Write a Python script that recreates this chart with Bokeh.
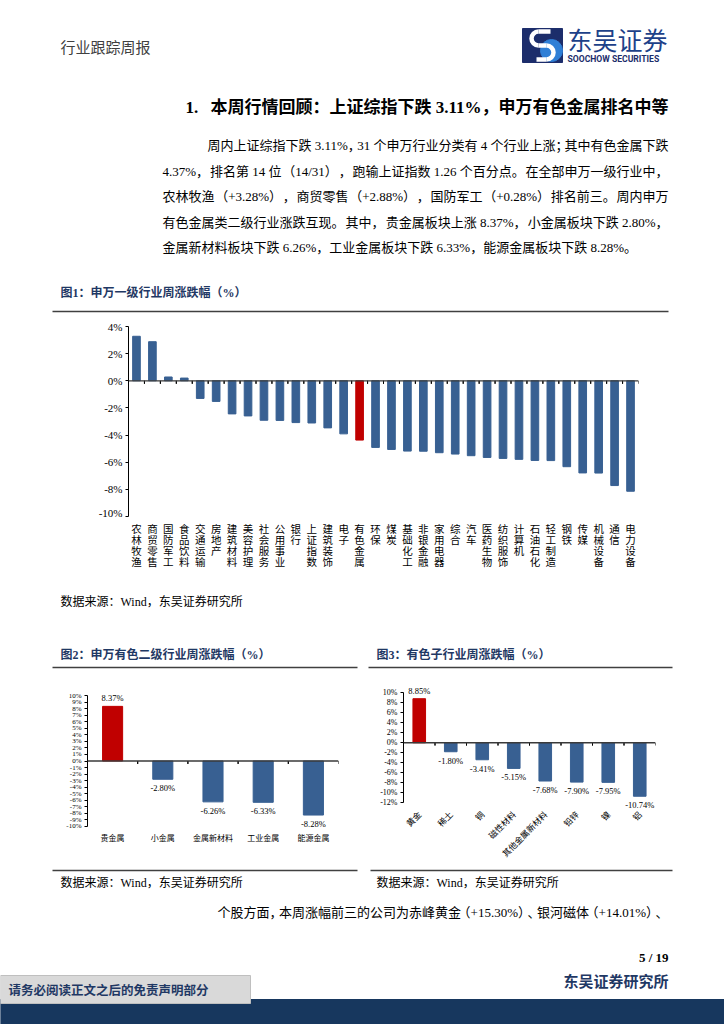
import math
from bokeh.plotting import figure
from bokeh.layouts import column, row
from bokeh.models import (Range1d, FactorRange, Span, ColumnDataSource, LabelSet,
                          FixedTicker, PrintfTickFormatter)
from bokeh.transform import dodge
from bokeh.core.properties import value
from bokeh.embed import file_html
from bokeh.resources import INLINE

# ---------------- data ----------------
industries = ["农林牧渔", "商贸零售", "国防军工", "食品饮料", "交通运输", "房地产", "建筑材料",
              "美容护理", "社会服务", "公用事业", "银行", "上证指数", "建筑装饰", "电子", "有色金属",
              "环保", "煤炭", "基础化工", "非银金融", "家用电器", "综合", "汽车", "医药生物",
              "纺织服饰", "计算机", "石油石化", "轻工制造", "钢铁", "传媒", "机械设备", "通信", "电力设备"]
industry_change = [3.28, 2.88, 0.28, 0.20, -1.30, -1.52, -2.44, -2.59, -2.91, -2.92, -3.08, -3.11,
                   -3.47, -3.91, -4.37, -4.91, -5.06, -5.18, -5.19, -5.30, -5.40, -5.52, -5.65,
                   -5.72, -5.79, -5.87, -5.88, -6.33, -6.79, -6.80, -7.72, -8.14]
industry_highlight = "有色金属"
industry_ticks = [-10, -8, -6, -4, -2, 0, 2, 4]

level2_names = ["贵金属", "小金属", "金属新材料", "工业金属", "能源金属"]
level2_change = [8.37, -2.80, -6.26, -6.33, -8.28]
level2_highlight = "贵金属"
level2_ticks = list(range(-10, 11))

sub_names = ["黄金", "稀土", "铜", "磁性材料", "其他金属新材料", "铅锌", "镍", "铝"]
sub_change = [8.85, -1.80, -3.41, -5.15, -7.68, -7.90, -7.95, -10.74]
sub_highlight = "黄金"
sub_ticks = [-12, -10, -8, -6, -4, -2, 0, 2, 4, 6, 8, 10]

header_left = "行业跟踪周报"
brand_cn = "东吴证券"
brand_en = "SOOCHOW SECURITIES"
section_no = "1."
section_title = "本周行情回顾：上证综指下跌 3.11%，申万有色金属排名中等"
paragraph_lines = [
    "周内上证综指下跌 3.11%，31 个申万行业分类有 4 个行业上涨；其中有色金属下跌",
    "4.37%，排名第 14 位（14/31），跑输上证指数 1.26 个百分点。在全部申万一级行业中，",
    "农林牧渔（+3.28%），商贸零售（+2.88%），国防军工（+0.28%）排名前三。周内申万",
    "有色金属类二级行业涨跌互现。其中，贵金属板块上涨 8.37%，小金属板块下跌 2.80%，",
    "金属新材料板块下跌 6.26%，工业金属板块下跌 6.33%，能源金属板块下跌 8.28%。",
]
fig1_title = "图1：申万一级行业周涨跌幅（%）"
fig2_title = "图2：申万有色二级行业周涨跌幅（%）"
fig3_title = "图3：有色子行业周涨跌幅（%）"
source_note = "数据来源：Wind，东吴证券研究所"
stock_line = "个股方面，本周涨幅前三的公司为赤峰黄金（+15.30%）、银河磁体（+14.01%）、"
page_no = "5 / 19"
footer_brand = "东吴证券研究所"
disclaimer = "请务必阅读正文之后的免责声明部分"

# ---------------- style ----------------
SERIF = "'Liberation Serif', 'Noto Sans CJK SC'"
CJK = "'Noto Sans CJK SC'"
BLUE = "#386092"
RED = "#C00000"
NAVY = "#1F3864"
PAGE_W = 724
LATIN_EM = {".": 0.25, "%": 0.833, "+": 0.564, "/": 0.278, " ": 0.25, "W": 0.944,
            "i": 0.278, "n": 0.5, "d": 0.5}


def page_panel(y_top, y_bottom):
    p = figure(width=PAGE_W, height=y_bottom - y_top,
               x_range=Range1d(0, PAGE_W), y_range=Range1d(y_bottom, y_top),
               x_axis_type=None, y_axis_type=None, output_backend="svg",
               toolbar_location=None, min_border=0, frame_align=False)
    p.outline_line_color = None
    p.grid.visible = False
    return p


def put(p, x, y, s, size, color="#000000", bold=False, align="left", font=SERIF):
    p.text(x=[x], y=[y], text=[s], text_font=value(font), text_font_size=f"{size}px",
           text_font_style="bold" if bold else "normal", text_color=color,
           text_align=align, text_baseline="middle")


def est_width(s, size):
    return size * sum(1.0 if ord(c) > 0x2E80 else LATIN_EM.get(c, 0.5) for c in s)


def justified(p, x0, x1, y, s, size):
    chunks, cur = [], ""
    for c in s:
        if c in "（" and cur:
            chunks.append(cur)
            cur = ""
        cur += c
        if c in "，；。）：、":
            chunks.append(cur)
            cur = ""
    if cur:
        chunks.append(cur)
    nat = sum(est_width(c, size) for c in chunks)
    gap = ((x1 - x0) - nat) / max(len(chunks) - 1, 1)
    x = x0
    for c in chunks:
        put(p, x, y, c, size)
        x += est_width(c, size) + gap


def hline(p, x0, x1, y, color="#404040", width=1.5):
    p.segment(x0=[x0], y0=[y], x1=[x1], y1=[y], line_color=color, line_width=width)


def bar_chart(names, vals, highlight, yr, bounds, ticks, w, h, bl, br, bt, bb, bar_w,
              ytick_size, xlab_size, tick_len, rotate=False, labels=False,
              xlab_standoff=5, show_x=True):
    p = figure(width=w, height=h, x_range=FactorRange(factors=names), y_range=Range1d(*yr),
               output_backend="svg", toolbar_location=None, frame_align=False,
               min_border_left=bl, min_border_right=br, min_border_top=bt, min_border_bottom=bb)
    p.outline_line_color = None
    p.grid.visible = False
    src = ColumnDataSource(dict(cat=names, val=vals,
                                color=[RED if n == highlight else BLUE for n in names]))
    p.vbar(x="cat", top="val", width=bar_w, fill_color="color", line_color="color", source=src)
    p.add_layout(Span(location=0, dimension="width", line_color="#3a3a3a", line_width=1.3))
    for off in (-0.5, 0.5):
        p.segment(x0=dodge("cat", off, range=p.x_range), y0=0,
                  x1=dodge("cat", off, range=p.x_range), y1=-tick_len,
                  line_color="#000000", line_width=1, source=src)
    ya = p.yaxis[0]
    ya.ticker = FixedTicker(ticks=ticks)
    ya.formatter = PrintfTickFormatter(format="%d%%")
    ya.bounds = bounds
    ya.major_tick_in = 0
    ya.major_tick_out = 3
    ya.minor_tick_line_color = None
    ya.axis_line_color = "#000000"
    ya.major_tick_line_color = "#000000"
    ya.major_label_text_font = SERIF
    ya.major_label_text_font_size = f"{ytick_size}px"
    ya.major_label_text_color = "#000000"
    ya.major_label_standoff = 3
    xa = p.xaxis[0]
    if not show_x:
        xa.visible = False
    xa.axis_line_color = None
    xa.major_tick_line_color = None
    xa.major_tick_out = 0
    xa.major_tick_in = 0
    xa.major_label_text_font = CJK
    xa.major_label_text_font_size = f"{xlab_size}px"
    xa.major_label_text_color = "#000000"
    xa.major_label_standoff = xlab_standoff
    xa.major_label_orientation = math.pi / 4 if rotate else "horizontal"
    if labels:
        pos = [i for i, v in enumerate(vals) if v >= 0]
        neg = [i for i, v in enumerate(vals) if v < 0]
        for idx, base, off in ((pos, "bottom", 3), (neg, "top", -4)):
            s = ColumnDataSource(dict(cat=[names[i] for i in idx], val=[vals[i] for i in idx],
                                      lab=[f"{vals[i]:.2f}%" for i in idx]))
            p.add_layout(LabelSet(x="cat", y="val", text="lab", source=s,
                                  text_align="center", text_baseline=base, y_offset=off,
                                  text_font=value(SERIF), text_font_size=value("8.5px"),
                                  text_color="#000000"))
    return p


# ---------------- header panel (page y 0..318) ----------------
head = page_panel(0, 318)
put(head, 60, 46, header_left, 15, color="#404040", font=CJK)
# logo
head.quad(left=[522], right=[562], top=[28], bottom=[62], color="#1C2D6B")
head.circle(x=[551], y=[50], radius=11, color="#2F7FD6")
head.arc(x=[538], y=[38], radius=7, start_angle=math.pi / 2, end_angle=3 * math.pi / 2,
         line_color="white", line_width=4.5)
head.arc(x=[546], y=[52], radius=7, start_angle=-math.pi / 2, end_angle=math.pi / 2,
         line_color="white", line_width=4.5)
head.segment(x0=[538, 538, 536], y0=[45, 31, 59], x1=[546, 550, 546], y1=[45, 31, 59],
             line_color="white", line_width=4.5)
put(head, 567, 38, brand_cn, 25, color="#1D4189", font=CJK)
put(head, 567, 58, brand_en, 8.6, color="#1C2D6B", bold=True, font="Roboto")
put(head, 185, 107, section_no, 17, bold=True)
put(head, 210, 107, section_title, 17, bold=True)
para_y = [145, 170.5, 196, 221.5, 247]
para_x = [207, 162, 162, 162, 162]
for i, (s, x, y) in enumerate(zip(paragraph_lines, para_x, para_y)):
    if i < len(paragraph_lines) - 1:
        justified(head, x, 668, y, s, 13)
    else:
        put(head, x, y, s, 13)
put(head, 60, 292, fig1_title, 12, color=NAVY, bold=True)
hline(head, 52, 668, 311)

# ---------------- chart 1 (page y 318..518) + stacked labels (518..590) ----------------
c1 = bar_chart(industries, industry_change, industry_highlight, (-10, 4), (-10, 4),
               industry_ticks, PAGE_W, 200, 128, 86, 8, 2, 0.48, 11, 10.5, 0.22, show_x=False)

lab1 = figure(width=PAGE_W, height=72, x_range=c1.x_range, y_range=Range1d(5.6, -0.9),
              x_axis_type=None, y_axis_type=None, output_backend="svg",
              toolbar_location=None, frame_align=False,
              min_border_left=128, min_border_right=86, min_border_top=0, min_border_bottom=0)
lab1.outline_line_color = None
lab1.grid.visible = False
char_src = ColumnDataSource(dict(
    cat=[n for n in industries for _ in n],
    ch=[c for n in industries for c in n],
    k=[k for n in industries for k in range(len(n))],
))
lab1.text(x="cat", y="k", text="ch", source=char_src, text_font=value(CJK),
          text_font_size="10.5px", text_color="#000000", text_align="center",
          text_baseline="middle")

# ---------------- middle panel (page y 590..680) ----------------
mid = page_panel(590, 680)
put(mid, 60, 601, source_note, 12)
put(mid, 60, 654, fig2_title, 12, color=NAVY, bold=True)
put(mid, 376, 654, fig3_title, 12, color=NAVY, bold=True)
hline(mid, 52, 357, 667)
hline(mid, 368, 672, 667)

# ---------------- charts 2 and 3 (page y 680..866) ----------------
c2 = bar_chart(level2_names, level2_change, level2_highlight, (-10.8, 10.8), (-10, 10),
               level2_ticks, 362, 186, 87, 24, 10, 35, 0.4, 7, 8, 0.45, labels=True,
               xlab_standoff=0)
c3 = bar_chart(sub_names, sub_change, sub_highlight, (-13.6, 11.3), (-12, 10), sub_ticks,
               362, 186, 41, 69, 6, 49, 0.4, 8, 8.5, 0.55, rotate=True, labels=True,
               xlab_standoff=2)

# ---------------- footer panel (page y 866..1024) ----------------
foot = page_panel(866, 1024)
hline(foot, 52, 357, 870)
hline(foot, 370, 672, 870)
put(foot, 60, 882, source_note, 12)
put(foot, 376, 882, source_note, 12)
justified(foot, 217, 668, 912, stock_line, 13)
put(foot, 668, 957, page_no, 13, bold=True, align="right")
put(foot, 668, 980, footer_brand, 15, color=NAVY, bold=True, align="right", font=CJK)
foot.quad(left=[0], right=[PAGE_W], top=[999], bottom=[1024], color="#17375E")
foot.quad(left=[0], right=[250], top=[975], bottom=[1003], fill_color="#D9D9D9",
          line_color="#BFBFBF")
put(foot, 8, 989, disclaimer, 12.5, color=NAVY, bold=True, font=CJK)

layout = column(head, c1, lab1, mid, row(c2, c3), foot)
open("out.html", "w").write(file_html(layout, INLINE))
